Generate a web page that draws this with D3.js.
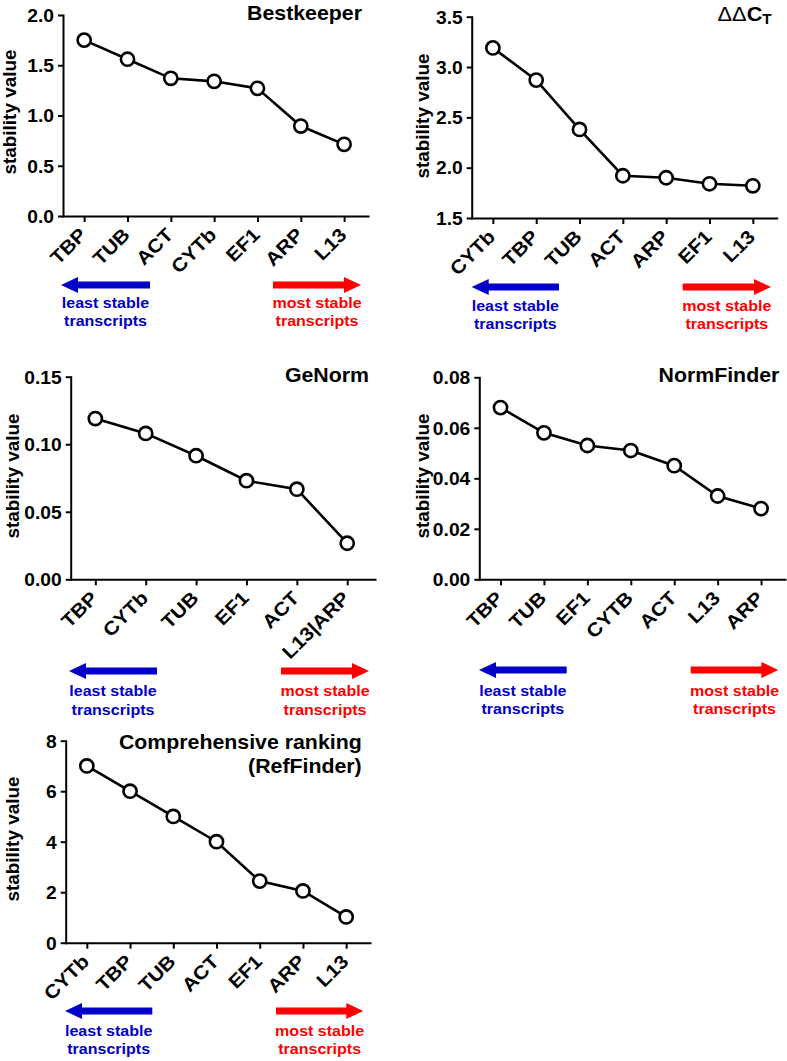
<!DOCTYPE html>
<html><head><meta charset="utf-8">
<script src="https://cdn.jsdelivr.net/npm/d3@7"></script>
<style>
body{margin:0;background:#fff}
text{font-family:"Liberation Sans",Arial,Helvetica,sans-serif}
</style>
</head><body>
<svg id="c" width="787" height="1061"></svg>
<script>
// ---------------- data ----------------
const bestkeeperGenes  = ["TBP","TUB","ACT","CYTb","EF1","ARP","L13"];
const bestkeeperValues = [1.75,1.56,1.37,1.34,1.27,0.895,0.713];
const bestkeeperTicks  = [0,0.5,1.0,1.5,2.0];

const ddctGenes  = ["CYTb","TBP","TUB","ACT","ARP","EF1","L13"];
const ddctValues = [3.19,2.87,2.38,1.92,1.90,1.84,1.82];
const ddctTicks  = [1.5,2.0,2.5,3.0,3.5];

const genormGenes  = ["TBP","CYTb","TUB","EF1","ACT","L13|ARP"];
const genormValues = [0.119,0.108,0.0915,0.073,0.0667,0.0267];
const genormTicks  = [0,0.05,0.10,0.15];

const normfinderGenes  = ["TBP","TUB","EF1","CYTB","ACT","L13","ARP"];
const normfinderValues = [0.068,0.058,0.053,0.051,0.045,0.033,0.028];
const normfinderTicks  = [0,0.02,0.04,0.06,0.08];

const refGenes  = ["CYTb","TBP","TUB","ACT","EF1","ARP","L13"];
const refValues = [7,6,5,4,2.44,2.05,1.02];
const refTicks  = [0,2,4,6,8];

const yLabelText = "stability value";
const leastLabel = ["least stable","transcripts"];
const mostLabel  = ["most stable","transcripts"];
const titles = [["Bestkeeper"], ["ΔΔCT"], ["GeNorm"], ["NormFinder"], ["Comprehensive ranking","(RefFinder)"]];

// ---------------- layout ----------------
const BLUE = "#0000c8", RED = "#ff0000";
const SX = 1.1;        // horizontal stretch of small text
const TSX = 1.04;      // stretch of titles

const panels = [
  {genes:bestkeeperGenes, values:bestkeeperValues, ticks:bestkeeperTicks, fmt:d3.format(".1f"),
   x0:63, x1:368, yTop:15, yBot:216, labX:16, labY:112,
   titleX:362, titleY:[19.5], arrowY:285, blue:[61,150], red:[273,361], textY:[308,326]},
  {genes:ddctGenes, values:ddctValues, ticks:ddctTicks, fmt:d3.format(".1f"),
   x0:471.7, x1:776.7, yTop:16.7, yBot:218, labX:429, labY:116,
   titleX:771.7, titleY:[20.7], arrowY:287, blue:[471.7,559], red:[682.7,771], textY:[310.5,328.5]},
  {genes:genormGenes, values:genormValues, ticks:genormTicks, fmt:d3.format(".2f"),
   x0:70.7, x1:375, yTop:376.7, yBot:579.3, labX:18.5, labY:476,
   titleX:369, titleY:[381.7], arrowY:671, blue:[69,157], red:[281,369], textY:[696,714.5]},
  {genes:normfinderGenes, values:normfinderValues, ticks:normfinderTicks, fmt:d3.format(".2f"),
   x0:479.3, x1:785, yTop:377.3, yBot:579.3, labX:429, labY:476,
   titleX:779.3, titleY:[381.7], arrowY:670, blue:[479,566.7], red:[690.7,778.3], textY:[695.5,714]},
  {genes:refGenes, values:refValues, ticks:refTicks, fmt:d3.format("d"),
   x0:65.7, x1:370, yTop:740.7, yBot:942.7, labX:18.5, labY:839,
   titleX:361.7, titleY:[749.3,773], arrowY:1011, blue:[65,152.3], red:[276,363.3], textY:[1035.5,1053.5]}
];

const svg = d3.select("#c");

function addText(g, x, y, str, o) {
  o = o || {};
  return g.append("text")
    .attr("transform", `translate(${x},${y}) rotate(${o.rot||0}) scale(${o.sx||1},1)`)
    .attr("text-anchor", o.anchor || "start")
    .attr("font-size", o.size || 16)
    .attr("font-weight", o.weight || "bold")
    .attr("fill", o.fill || "#000")
    .text(str);
}

function arrowPath(xa, xb, y, dir) {
  const st = 3.6, hh = 8, hl = 17;
  if (dir < 0) {
    return `M${xa},${y} L${xa+hl},${y-hh} L${xa+hl},${y-st} L${xb},${y-st} L${xb},${y+st} L${xa+hl},${y+st} L${xa+hl},${y+hh} Z`;
  }
  return `M${xb},${y} L${xb-hl},${y-hh} L${xb-hl},${y-st} L${xa},${y-st} L${xa},${y+st} L${xb-hl},${y+st} L${xb-hl},${y+hh} Z`;
}

panels.forEach((p, i) => {
  const g = svg.append("g");
  const x = d3.scalePoint().domain(p.genes).range([p.x0, p.x1]).padding(0.52).align(0.47);
  const y = d3.scaleLinear().domain(d3.extent(p.ticks)).range([p.yBot, p.yTop]);

  // y axis
  const ya = g.append("g").attr("transform", `translate(${p.x0},0)`)
    .call(d3.axisLeft(y).tickValues(p.ticks).tickFormat(p.fmt).tickSize(5).tickSizeOuter(0));
  ya.selectAll("text").attr("x", null).attr("dy", "0.36em")
    .attr("transform", `translate(-9,0) scale(${SX},1)`)
    .attr("font-size", 17.5).attr("font-weight", "bold").attr("fill", "#000");

  // x axis
  const xa = g.append("g").attr("transform", `translate(0,${p.yBot})`)
    .call(d3.axisBottom(x).tickSize(6).tickSizeOuter(0));
  xa.selectAll("text").attr("y", null).attr("dy", null)
    .attr("text-anchor", "end")
    .attr("transform", `translate(3,20) rotate(-45) scale(${SX},1)`)
    .attr("font-size", 19).attr("font-weight", "bold").attr("fill", "#000");

  g.selectAll(".domain").attr("stroke", "#000").attr("stroke-width", 2).attr("stroke-linecap", "square");
  g.selectAll(".tick line").attr("stroke", "#000").attr("stroke-width", 2);

  // y label
  addText(g, p.labX, p.labY, yLabelText, {rot:-90, anchor:"middle", size:17.5, sx:1.08});

  // line + markers
  const pts = p.genes.map((gn, k) => ({g: gn, v: p.values[k]}));
  g.append("path").datum(pts)
    .attr("fill", "none").attr("stroke", "#000").attr("stroke-width", 2.6)
    .attr("d", d3.line().x(d => x(d.g)).y(d => y(d.v)));
  g.selectAll("circle.pt").data(pts).join("circle").attr("class", "pt")
    .attr("cx", d => x(d.g)).attr("cy", d => y(d.v)).attr("r", 6.6)
    .attr("fill", "#fff").attr("stroke", "#000").attr("stroke-width", 2.6);

  // title
  if (i === 1) {
    const t = g.append("text")
      .attr("transform", `translate(${p.titleX},${p.titleY[0]}) scale(1.06,1)`)
      .attr("text-anchor", "end").attr("font-size", 20.5).attr("fill", "#000");
    t.append("tspan").attr("font-weight", "normal").text(titles[i][0].slice(0, 2));
    t.append("tspan").attr("font-weight", "bold").text(titles[i][0].slice(2, 3));
    t.append("tspan").attr("font-weight", "bold").attr("font-size", 14.5).attr("dy", 3).text(titles[i][0].slice(3));
  } else {
    titles[i].forEach((line, k) => addText(g, p.titleX, p.titleY[k], line, {anchor:"end", size:20.5, sx:TSX}));
  }

  // arrows
  g.append("path").attr("d", arrowPath(p.blue[0], p.blue[1], p.arrowY, -1)).attr("fill", BLUE);
  g.append("path").attr("d", arrowPath(p.red[0], p.red[1], p.arrowY, 1)).attr("fill", RED);
  const bc = (p.blue[0] + p.blue[1]) / 2, rc = (p.red[0] + p.red[1]) / 2;
  leastLabel.forEach((s, k) => addText(g, bc, p.textY[k], s, {anchor:"middle", size:15, sx:1.07, fill:BLUE}));
  mostLabel.forEach((s, k) => addText(g, rc, p.textY[k], s, {anchor:"middle", size:15, sx:1.07, fill:RED}));
});
</script>
</body></html>
